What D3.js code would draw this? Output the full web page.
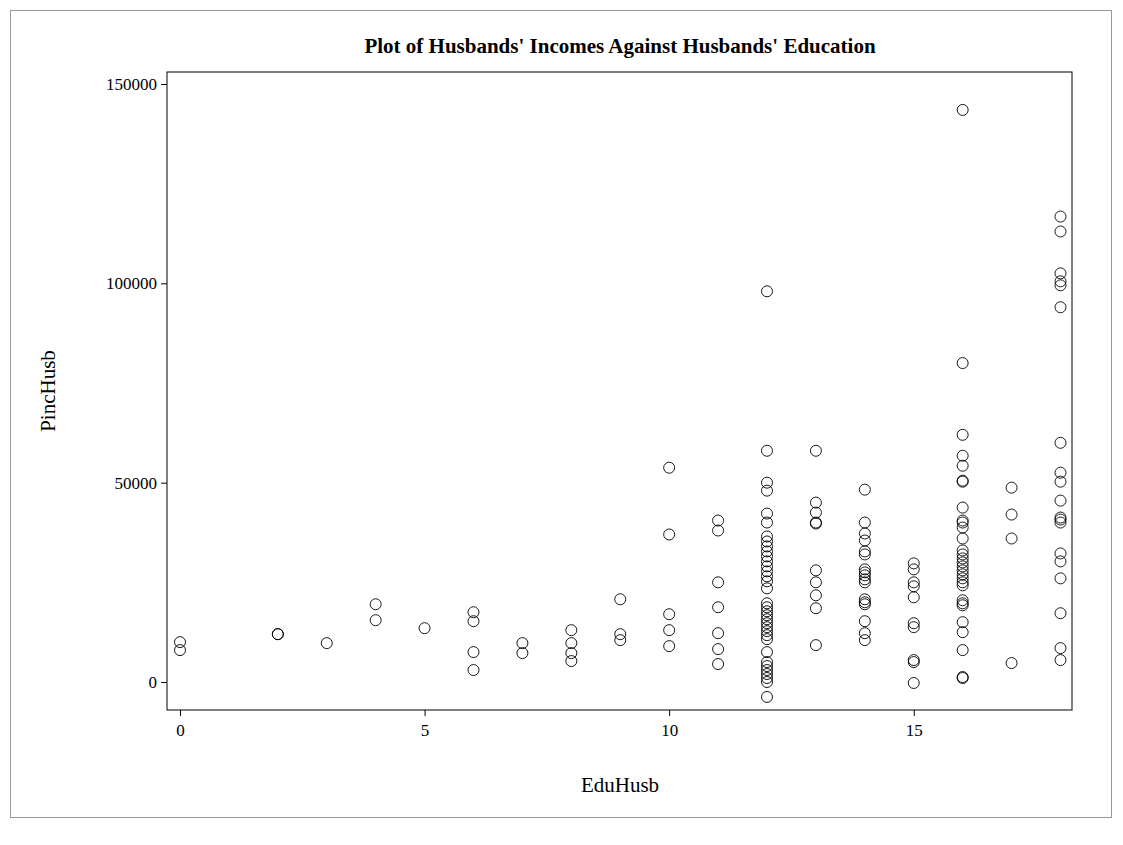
<!DOCTYPE html>
<html><head><meta charset="utf-8">
<script src="https://cdn.jsdelivr.net/npm/d3@7"></script>
<style>body{margin:0;background:#fff}</style>
</head><body><svg></svg>
<script>
// education levels and husband incomes (thousands)
const eduLevels = [0, 2, 3, 4, 5, 6, 7, 8, 9, 10, 11, 12, 13, 14, 15, 16, 17, 18];
const incomeByEdu = [
  [10, 8],
  [12, 12],
  [9.75],
  [19.5, 15.5],
  [13.5],
  [17.5, 15.25, 7.5, 3],
  [9.75, 7.25],
  [13, 9.75, 7.25, 5.25],
  [20.75, 12, 10.5],
  [53.75, 37, 17, 13, 9],
  [40.5, 38, 25, 18.75, 12.25, 8.25, 4.5],
  [98, 58, 50, 48, 42.25, 40, 36.5, 35.25, 34, 32.75, 31.5, 30.25, 29, 27.75, 26.5, 25.25, 23.5,
   19.75, 18.75, 17.75, 16.75, 15.75, 14.75, 13.75, 12.75, 11.75, 10.75, 7.5, 5, 4, 3, 2, 1, 0, -3.75],
  [58, 45, 42.5, 40, 39.75, 28, 25, 21.75, 18.5, 9.25],
  [48.25, 40, 37.25, 35.5, 32.75, 32, 28.25, 27.5, 26.75, 25.75, 25, 20.75, 20, 19.5, 15.25, 12.25, 10.5],
  [29.75, 28.25, 25, 24, 21.25, 14.75, 13.75, 5.5, 5, -0.25],
  [143.5, 80, 62, 56.75, 54.25, 50.5, 50.25, 43.75, 40.5, 40, 38.75, 36, 33, 32, 31, 30, 29, 28, 27, 26, 25,
   24.25, 20.5, 19.75, 19.25, 15, 12.5, 8, 1.25, 1],
  [48.75, 42, 36, 4.75],
  [116.75, 113, 102.5, 100.5, 99.5, 94, 60, 52.5, 50.25, 45.5, 41.25, 40.75, 40, 32.25, 30.25, 26, 17.25, 8.5, 5.5]
];
const xTicks = [0, 5, 10, 15];
const yTicks = [0, 50000, 100000, 150000];

const points = [];
eduLevels.forEach((e, i) => incomeByEdu[i].forEach(v => points.push({edu: e, inc: v * 1000})));

const svg = d3.select("svg").attr("width", 1123).attr("height", 845)
  .style("font-family", "'Liberation Serif', serif");

// outer frame
svg.append("rect").attr("x", 10.5).attr("y", 10.5).attr("width", 1101).attr("height", 807)
  .attr("fill", "none").attr("stroke", "#999");

const x = d3.scaleLinear().domain([0, 18]).range([180, 1060.5]);
const y = d3.scaleLinear().domain([0, 150000]).range([682, 84]);
const plotLeft = 167, plotRight = 1072, plotTop = 72, plotBottom = 710;

svg.append("rect").attr("x", plotLeft).attr("y", plotTop)
  .attr("width", plotRight - plotLeft).attr("height", plotBottom - plotTop)
  .attr("fill", "none").attr("stroke", "#000");

svg.append("g").attr("transform", `translate(0,${plotBottom})`)
  .call(d3.axisBottom(x).tickValues(xTicks).tickSize(6).tickPadding(8))
  .call(g => g.select(".domain").remove())
  .call(g => g.selectAll("text").attr("font-size", 17).attr("font-family", "'Liberation Serif', serif"));

svg.append("g").attr("transform", `translate(${plotLeft},0)`)
  .call(d3.axisLeft(y).tickValues(yTicks).tickFormat(d3.format("d")).tickSize(6).tickPadding(4))
  .call(g => g.select(".domain").remove())
  .call(g => g.selectAll("text").attr("font-size", 17).attr("font-family", "'Liberation Serif', serif"));

svg.append("g").selectAll("circle").data(points).enter().append("circle")
  .attr("cx", d => x(d.edu)).attr("cy", d => y(d.inc)).attr("r", 5.5)
  .attr("fill", "none").attr("stroke", "#000").attr("stroke-width", 0.9);

svg.append("text").attr("x", 620).attr("y", 53).attr("text-anchor", "middle")
  .attr("font-size", 21).attr("font-weight", "bold").text("Plot of Husbands' Incomes Against Husbands' Education");

svg.append("text").attr("x", 620).attr("y", 792).attr("text-anchor", "middle")
  .attr("font-size", 21).text("EduHusb");

svg.append("text").attr("transform", "translate(55,391) rotate(-90)").attr("text-anchor", "middle")
  .attr("font-size", 21).text("PincHusb");
</script>
</body></html>
